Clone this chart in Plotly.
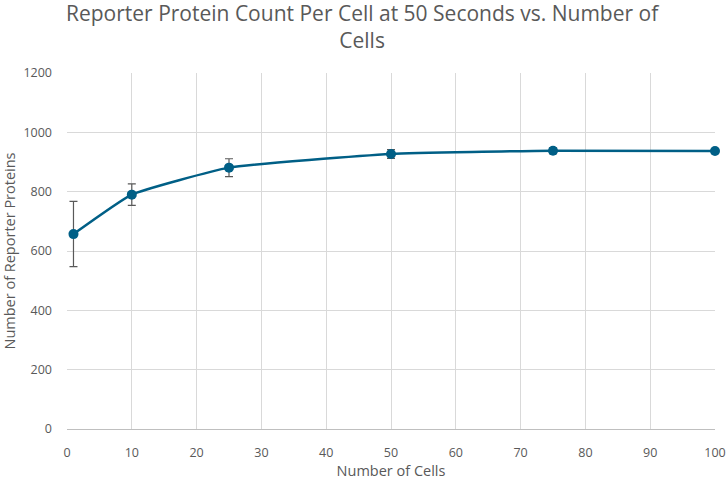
import plotly.graph_objects as go

cells = [1, 10, 25, 50, 75, 100]
proteins = [657, 790, 881, 927, 938, 937]
errors = [110, 36, 30, 15, 10, 7]

x_ticks = [0, 10, 20, 30, 40, 50, 60, 70, 80, 90, 100]
y_ticks = [0, 200, 400, 600, 800, 1000, 1200]

title_text = "Reporter Protein Count Per Cell at 50 Seconds vs. Number of<br>Cells"

color = "#005F86"
font = "Open Sans"
gray = "#595959"

fig = go.Figure()
fig.add_trace(go.Scatter(
    x=cells, y=proteins, mode="lines+markers",
    line=dict(color=color, width=2.5, shape="spline", smoothing=0.4),
    marker=dict(color=color, size=10),
    error_y=dict(type="data", array=errors, visible=True, color=gray,
                 thickness=1.2, width=4),
    showlegend=False,
    cliponaxis=False,
))

fig.update_layout(
    width=726, height=480,
    paper_bgcolor="white", plot_bgcolor="white",
    margin=dict(l=67, r=11, t=73, b=51, autoexpand=False),
    font=dict(family=font, color=gray, size=12),
    annotations=[dict(
        text=title_text, xref="paper", yref="paper",
        x=0.457, y=1.214, xanchor="center", yanchor="top",
        showarrow=False, align="center",
        font=dict(family=font, size=21, color=gray),
    )],
)
fig.update_xaxes(
    range=[0, 100], tickvals=x_ticks, showgrid=True, gridcolor="#D9D9D9",
    gridwidth=1, showline=True, linecolor="#BFBFBF", zeroline=False,
    ticks="", ticklabelstandoff=12, automargin=False,
    tickfont=dict(size=12.5, color=gray),
    title=dict(text="Number of Cells", font=dict(size=14.5, color=gray), standoff=5),
)
fig.update_yaxes(
    range=[0, 1200], tickvals=y_ticks, showgrid=True, gridcolor="#D9D9D9",
    gridwidth=1, showline=False, zeroline=False,
    ticks="", ticklabelstandoff=14, automargin=False,
    tickfont=dict(size=12.5, color=gray),
    title=dict(text="Number of Reporter Proteins", font=dict(size=14.5, color=gray), standoff=6),
)

fig.write_html("out.html", config={"displayModeBar": False},
               post_script="document.body.style.margin='0';")
